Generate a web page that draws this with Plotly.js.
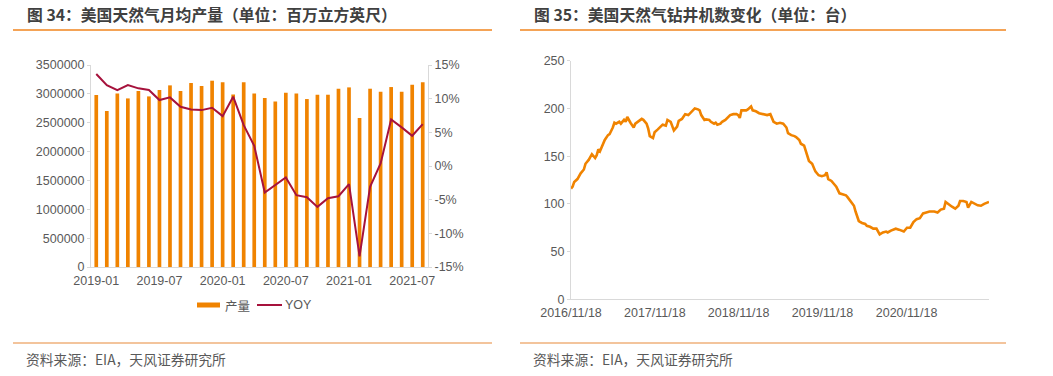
<!DOCTYPE html>
<html>
<head>
<meta charset="utf-8">
<script src="https://cdn.plot.ly/plotly-3.0.1.min.js"></script>
<style>html,body{margin:0;padding:0;background:#fff;}#chart{width:1053px;height:376px;}</style>
</head>
<body>
<div id="chart"></div>
<script>
// ---- Chart 34: monthly US natural gas production ----
const months = ['2019-01','2019-02','2019-03','2019-04','2019-05','2019-06','2019-07','2019-08','2019-09','2019-10','2019-11','2019-12',
  '2020-01','2020-02','2020-03','2020-04','2020-05','2020-06','2020-07','2020-08','2020-09','2020-10','2020-11','2020-12',
  '2021-01','2021-02','2021-03','2021-04','2021-05','2021-06','2021-07','2021-08'];
const production = [2979000,2702000,3008000,2921000,3049000,2956000,3066000,3147000,3049000,3188000,3136000,3228000,
  3199000,2991000,3199000,3008000,2927000,2869000,3020000,3008000,2910000,2985000,2985000,3089000,
  3112000,2580000,3089000,3037000,3118000,3037000,3159000,3199000];
const yoy = [13.66,12.02,11.28,12.02,11.53,11.28,9.79,10.19,8.80,8.40,8.30,8.65,
  7.41,10.29,6.07,3.0,-3.94,-2.85,-1.71,-4.34,-4.64,-6.07,-4.78,-4.49,
  -2.70,-13.41,-3.10,0.37,6.92,5.73,4.49,6.22];
const monthTicks = ['2019-01','2019-07','2020-01','2020-07','2021-01','2021-07'];
const yoyTickVals = [-15,-10,-5,0,5,10,15];
const yoyTickText = ['-15%','-10%','-5%','0%','5%','10%','15%'];

// ---- Chart 35: US natural gas rig count ----
const rigDates = ['2016-11-18','2016-11-25','2016-12-02','2016-12-16','2016-12-30','2017-01-13','2017-01-20','2017-02-03','2017-02-17','2017-03-03',
  '2017-03-10','2017-03-17','2017-03-24','2017-04-07','2017-04-14','2017-04-28','2017-05-05','2017-05-19','2017-05-26','2017-06-02',
  '2017-06-16','2017-06-23','2017-07-07','2017-07-14','2017-07-21','2017-08-04','2017-08-18','2017-08-25','2017-09-08','2017-09-22',
  '2017-09-29','2017-10-13','2017-10-20','2017-10-27','2017-11-10','2017-11-17','2017-12-01','2017-12-08','2017-12-22','2018-01-05',
  '2018-01-12','2018-01-26','2018-02-02','2018-02-09','2018-02-23','2018-03-02','2018-03-16','2018-03-30','2018-04-13','2018-04-27',
  '2018-05-11','2018-05-25','2018-06-01','2018-06-08','2018-06-22','2018-06-29','2018-07-13','2018-07-20','2018-08-03','2018-08-10',
  '2018-08-17','2018-08-31','2018-09-07','2018-09-21','2018-10-05','2018-10-12','2018-10-26','2018-11-09','2018-11-16','2018-11-23',
  '2018-11-30','2018-12-21','2018-12-28','2019-01-11','2019-01-18','2019-02-01','2019-02-15','2019-03-08','2019-03-22','2019-04-05',
  '2019-04-12','2019-04-19','2019-05-03','2019-05-17','2019-05-31','2019-06-14','2019-06-21','2019-07-05','2019-07-19','2019-07-26',
  '2019-08-09','2019-08-16','2019-08-30','2019-09-13','2019-09-20','2019-10-04','2019-10-18','2019-11-01','2019-11-15','2019-11-29',
  '2019-12-06','2019-12-13','2019-12-27','2020-01-10','2020-01-17','2020-01-31','2020-02-14','2020-02-28','2020-03-06','2020-03-20',
  '2020-04-03','2020-04-10','2020-04-24','2020-05-08','2020-05-22','2020-05-29','2020-06-12','2020-06-26','2020-07-10','2020-07-24',
  '2020-08-07','2020-08-21','2020-08-28','2020-09-11','2020-10-02','2020-10-16','2020-10-30','2020-11-06','2020-11-20','2020-12-04',
  '2020-12-18','2021-01-01','2021-01-15','2021-01-29','2021-02-12','2021-02-26','2021-03-19','2021-04-02','2021-04-16','2021-04-30',
  '2021-05-07','2021-05-21','2021-06-04','2021-06-18','2021-07-02','2021-07-09','2021-07-23','2021-08-06','2021-08-13','2021-08-27',
  '2021-09-10','2021-09-24','2021-10-08','2021-10-22','2021-11-12'];
const rigCount = [116,118,123,126,132,136,142,146,152,148,
  151,157,155,163,167,172,173,180,185,184,
  186,184,188,186,191,185,180,184,187,189,
  188,184,179,171,169,175,178,180,183,182,
  188,186,182,177,181,187,189,194,193,197,
  200,199,198,193,188,188.5,188,186,184,185,
  183,184,186,188,191,193,194,194,193,190,
  198,198,199,202,198,197,195,194,193,194,
  189,186,184,185,184,180,174,172,171,170,
  167,163,161,151,145,142,134,130,129,130,
  133,126,124,120,118,111,110,109,107,102,
  98,92,82,80,79,77,76,74,74,68,
  70,71,70,72,74,73,72,71,75,75,
  81,84,85,90,91,92,92,91,94,95,
  102,99,97,95,98,103,103,102,96,102,
  100,98.5,98,100,102];
const rigTickVals = ['2016-11-18','2017-11-18','2018-11-18','2019-11-18','2020-11-18'];
const rigTickText = ['2016/11/18','2017/11/18','2018/11/18','2019/11/18','2020/11/18'];

// ---- helpers for page-pixel placement ----
const W = 1053, H = 376;
const px = x => x / W;
const py = y => 1 - y / H;

const ORANGE = '#F08300';
const RED = '#A6123C';
const AXIS = '#D9D9D9';
const TXT = '#595959';
const LATIN = 'Liberation Sans, Arial, sans-serif';
const CJK = 'Noto Sans CJK SC, sans-serif';
const tickFont = {family: LATIN, size: 12.5, color: TXT};

const traces = [
  {type: 'bar', x: months, y: production, xaxis: 'x', yaxis: 'y', marker: {color: ORANGE}, name: '产量', showlegend: false},
  {type: 'scatter', mode: 'lines', x: months, y: yoy, xaxis: 'x', yaxis: 'y2', line: {color: RED, width: 2}, name: 'YOY', showlegend: false},
  {type: 'scatter', mode: 'lines', x: rigDates, y: rigCount, xaxis: 'x2', yaxis: 'y3', line: {color: ORANGE, width: 2.6}, showlegend: false}
];

const hline = (x0, x1, y, color, w) => ({type: 'line', xref: 'paper', yref: 'paper', x0: px(x0), x1: px(x1), y0: py(y), y1: py(y), line: {color: color, width: w}});

const layout = {
  width: W, height: H,
  margin: {l: 0, r: 0, t: 0, b: 0},
  paper_bgcolor: '#fff', plot_bgcolor: '#fff',
  showlegend: false,
  bargap: 0.65,
  xaxis: {domain: [px(91), px(428)], anchor: 'y', type: 'category', range: [-0.5, 31.5],
    tickvals: monthTicks, ticktext: monthTicks, showline: true, linecolor: AXIS, linewidth: 1,
    ticks: '', showgrid: false, zeroline: false, tickfont: tickFont, ticklabelstandoff: 2},
  yaxis: {domain: [py(267), py(65)], anchor: 'x', range: [0, 3500000], dtick: 500000, tickformat: 'd',
    showline: true, linecolor: AXIS, ticks: 'outside', ticklen: 3, tickcolor: AXIS,
    showgrid: false, zeroline: false, tickfont: tickFont},
  yaxis2: {overlaying: 'y', side: 'right', anchor: 'x', range: [-15, 15], tickvals: yoyTickVals, ticktext: yoyTickText,
    showline: true, linecolor: AXIS, ticks: 'outside', ticklen: 3, tickcolor: AXIS,
    showgrid: false, zeroline: false, tickfont: tickFont},
  xaxis2: {domain: [px(571), px(989)], anchor: 'y3', type: 'date', range: ['2016-11-18', '2021-11-12'],
    tickvals: rigTickVals, ticktext: rigTickText, showline: true, linecolor: AXIS, ticks: '',
    showgrid: false, zeroline: false, tickfont: tickFont, ticklabelstandoff: 2},
  yaxis3: {domain: [py(299.3), py(60.7)], anchor: 'x2', range: [0, 250], dtick: 50,
    showline: true, linecolor: AXIS, ticks: 'outside', ticklen: 3, tickcolor: AXIS,
    showgrid: false, zeroline: false, tickfont: tickFont},
  shapes: [
    hline(13, 492, 30, '#F0841E', 1.5),
    hline(520, 1006, 30, '#F0841E', 1.5),
    hline(13, 492, 343, '#E8893A', 1.2),
    hline(520, 1006, 343, '#E8893A', 1.2),
    // manual legend
    {type: 'rect', xref: 'paper', yref: 'paper', x0: px(197), x1: px(220), y0: py(307.5), y1: py(302.5), fillcolor: ORANGE, line: {width: 0}},
    hline(257, 282, 305, RED, 2)
  ],
  annotations: [
    {xref: 'paper', yref: 'paper', x: px(25), y: py(15), xanchor: 'left', yanchor: 'middle', showarrow: false,
      text: '<b>图 34：美国天然气月均产量（单位：百万立方英尺）</b>', font: {family: CJK, size: 15.8, color: '#404040'}},
    {xref: 'paper', yref: 'paper', x: px(532), y: py(15), xanchor: 'left', yanchor: 'middle', showarrow: false,
      text: '<b>图 35：美国天然气钻井机数变化（单位：台）</b>', font: {family: CJK, size: 15.8, color: '#404040'}},
    {xref: 'paper', yref: 'paper', x: px(24), y: py(359), xanchor: 'left', yanchor: 'middle', showarrow: false,
      text: '资料来源：EIA，天风证券研究所', font: {family: CJK, size: 13.8, color: TXT}},
    {xref: 'paper', yref: 'paper', x: px(531), y: py(359), xanchor: 'left', yanchor: 'middle', showarrow: false,
      text: '资料来源：EIA，天风证券研究所', font: {family: CJK, size: 13.8, color: TXT}},
    {xref: 'paper', yref: 'paper', x: px(223), y: py(305), xanchor: 'left', yanchor: 'middle', showarrow: false,
      text: '产量', font: {family: CJK, size: 12.5, color: TXT}},
    {xref: 'paper', yref: 'paper', x: px(283), y: py(305), xanchor: 'left', yanchor: 'middle', showarrow: false,
      text: 'YOY', font: {family: LATIN, size: 12.5, color: TXT}}
  ]
};

Plotly.newPlot('chart', traces, layout, {displayModeBar: false, staticPlot: true});
</script>
</body>
</html>
